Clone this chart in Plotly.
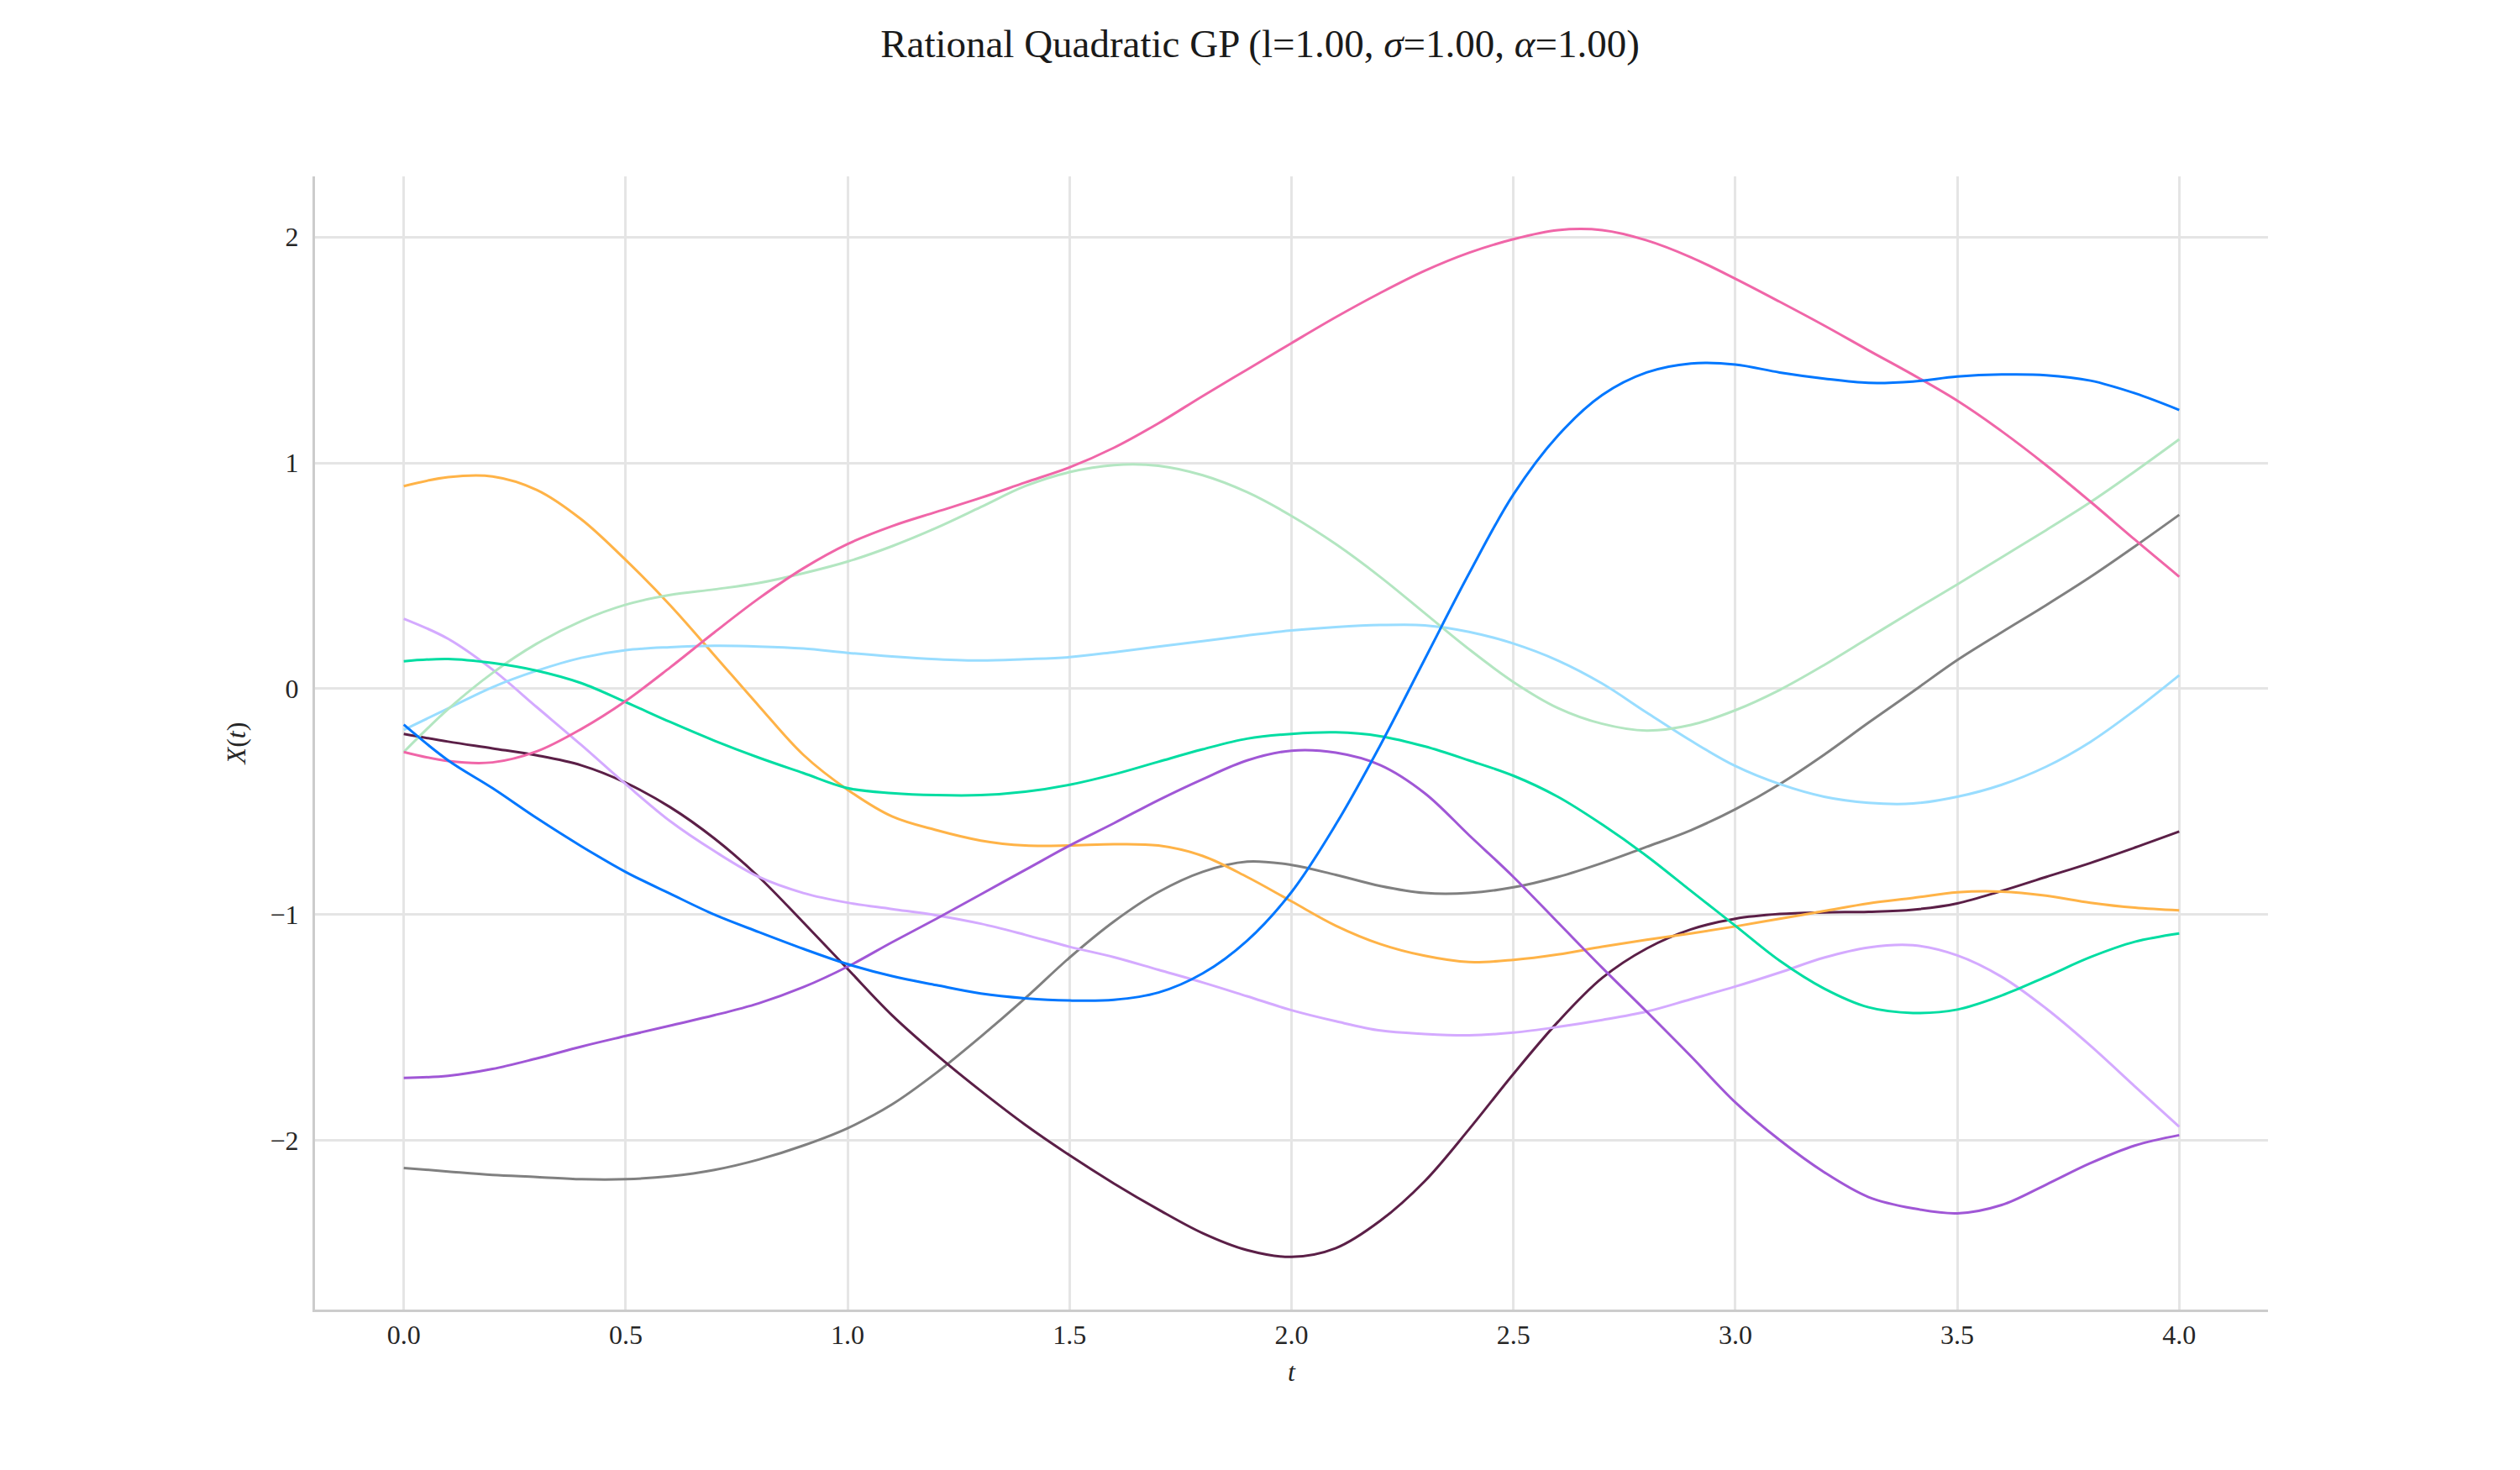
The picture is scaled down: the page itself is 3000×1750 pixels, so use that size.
import plotly.graph_objects as go

t = [0.0, 0.1, 0.2, 0.3, 0.4, 0.5, 0.6, 0.7, 0.8, 0.9,
     1.0, 1.1, 1.2, 1.3, 1.4, 1.5, 1.6, 1.7, 1.8, 1.9,
     2.0, 2.1, 2.2, 2.3, 2.4, 2.5, 2.6, 2.7, 2.8, 2.9,
     3.0, 3.1, 3.2, 3.3, 3.4, 3.5, 3.6, 3.7, 3.8, 3.9, 4.0]

gray = [-2.121, -2.137, -2.152, -2.161, -2.171, -2.171, -2.158, -2.130, -2.084, -2.022,
        -1.945, -1.840, -1.700, -1.540, -1.370, -1.190, -1.030, -0.900, -0.810, -0.765,
        -0.780, -0.824, -0.873, -0.904, -0.904, -0.879, -0.833, -0.771, -0.700, -0.626,
        -0.533, -0.422, -0.292, -0.150, -0.012, 0.127, 0.250, 0.370, 0.495, 0.630, 0.770]

maroon = [-0.200, -0.234, -0.264, -0.295, -0.339, -0.416, -0.524, -0.663, -0.833, -1.034,
          -1.240, -1.445, -1.620, -1.780, -1.930, -2.065, -2.190, -2.305, -2.410, -2.485,
          -2.515, -2.476, -2.355, -2.180, -1.950, -1.705, -1.475, -1.280, -1.150, -1.065,
          -1.018, -0.997, -0.990, -0.987, -0.978, -0.950, -0.895, -0.833, -0.771, -0.703, -0.632]

orange = [0.897, 0.937, 0.940, 0.880, 0.750, 0.570, 0.370, 0.148, -0.076, -0.292,
          -0.447, -0.565, -0.626, -0.672, -0.694, -0.694, -0.688, -0.694, -0.740, -0.833,
          -0.941, -1.049, -1.130, -1.182, -1.210, -1.200, -1.176, -1.142, -1.111, -1.083,
          -1.052, -1.018, -0.984, -0.950, -0.926, -0.901, -0.898, -0.916, -0.947, -0.969, -0.981]

lavender = [0.310, 0.221, 0.085, -0.082, -0.249, -0.422, -0.586, -0.719, -0.833, -0.904,
            -0.947, -0.975, -1.003, -1.040, -1.089, -1.142, -1.188, -1.244, -1.300, -1.361,
            -1.423, -1.472, -1.513, -1.528, -1.534, -1.522, -1.497, -1.466, -1.429, -1.374,
            -1.318, -1.256, -1.190, -1.145, -1.135, -1.180, -1.275, -1.415, -1.580, -1.760, -1.939]

purple = [-1.723, -1.713, -1.683, -1.636, -1.584, -1.537, -1.491, -1.445, -1.392, -1.321,
          -1.230, -1.122, -1.018, -0.910, -0.802, -0.694, -0.595, -0.493, -0.400, -0.317,
          -0.274, -0.283, -0.338, -0.462, -0.648, -0.833, -1.034, -1.235, -1.429, -1.627,
          -1.831, -1.998, -2.140, -2.250, -2.300, -2.322, -2.285, -2.195, -2.100, -2.022, -1.976]

lightblue = [-0.182, -0.087, 0.007, 0.080, 0.137, 0.171, 0.184, 0.190, 0.187, 0.178,
             0.159, 0.143, 0.131, 0.125, 0.131, 0.140, 0.162, 0.187, 0.211, 0.236,
             0.258, 0.273, 0.282, 0.281, 0.252, 0.200, 0.125, 0.023, -0.105, -0.230,
             -0.342, -0.422, -0.478, -0.505, -0.508, -0.478, -0.425, -0.345, -0.235, -0.095, 0.060]

lightgreen = [-0.280, -0.090, 0.070, 0.200, 0.300, 0.372, 0.415, 0.440, 0.468, 0.511,
              0.563, 0.631, 0.712, 0.804, 0.897, 0.959, 0.990, 0.987, 0.945, 0.870,
              0.765, 0.640, 0.495, 0.335, 0.175, 0.030, -0.085, -0.155, -0.185, -0.160,
              -0.095, -0.005, 0.105, 0.225, 0.345, 0.462, 0.582, 0.702, 0.826, 0.962, 1.104]

teal = [0.122, 0.132, 0.114, 0.080, 0.025, -0.059, -0.147, -0.230, -0.305, -0.373,
        -0.440, -0.462, -0.471, -0.471, -0.456, -0.425, -0.379, -0.323, -0.268, -0.221,
        -0.200, -0.193, -0.210, -0.255, -0.317, -0.385, -0.478, -0.601, -0.740, -0.895,
        -1.049, -1.204, -1.327, -1.410, -1.435, -1.420, -1.358, -1.275, -1.188, -1.120, -1.083]

pink = [-0.280, -0.320, -0.326, -0.277, -0.178, -0.054, 0.094, 0.250, 0.400, 0.533,
        0.641, 0.720, 0.783, 0.845, 0.913, 0.980, 1.067, 1.175, 1.296, 1.413,
        1.530, 1.645, 1.752, 1.850, 1.930, 1.990, 2.030, 2.030, 1.985, 1.910,
        1.815, 1.713, 1.608, 1.498, 1.390, 1.275, 1.140, 0.990, 0.828, 0.660, 0.496]

blue = [-0.159, -0.317, -0.440, -0.573, -0.697, -0.811, -0.907, -1.000, -1.077, -1.151,
        -1.219, -1.272, -1.312, -1.349, -1.370, -1.380, -1.377, -1.345, -1.260, -1.115,
        -0.900, -0.600, -0.250, 0.130, 0.510, 0.860, 1.120, 1.300, 1.400, 1.440,
        1.435, 1.400, 1.373, 1.354, 1.360, 1.382, 1.391, 1.388, 1.364, 1.308, 1.234]

series = [
    (gray, "#808080"),
    (maroon, "#5b1f47"),
    (orange, "#ffb347"),
    (lavender, "#d4aaff"),
    (purple, "#a057d6"),
    (lightblue, "#99ddff"),
    (lightgreen, "#b3e6c1"),
    (teal, "#00dda2"),
    (pink, "#f066a8"),
    (blue, "#0077ff"),
]

FONT = "Liberation Serif"

fig = go.Figure()
for vals, col in series:
    fig.add_trace(go.Scatter(x=t, y=vals, mode="lines",
                             line=dict(color=col, width=3, shape="spline", smoothing=1.0),
                             showlegend=False, hoverinfo="skip"))

fig.update_layout(
    width=3000, height=1750,
    paper_bgcolor="white", plot_bgcolor="white",
    margin=dict(l=375, r=300, t=210, b=191),
    font=dict(family=FONT, size=32, color="#262626"),
    title=dict(text="Rational Quadratic GP (l=1.00, <i>σ</i>=1.00, <i>α</i>=1.00)",
               x=0.5, xref="container", xanchor="center",
               y=1 - 52 / 1750, yref="container", yanchor="middle",
               font=dict(family=FONT, size=47, color="#1a1a1a")),
    showlegend=False,
)

fig.update_xaxes(
    range=[-0.2, 4.2], tickvals=[0.0, 0.5, 1.0, 1.5, 2.0, 2.5, 3.0, 3.5, 4.0],
    ticktext=["0.0", "0.5", "1.0", "1.5", "2.0", "2.5", "3.0", "3.5", "4.0"],
    showgrid=True, gridcolor="#e5e5e5", gridwidth=2.5, zeroline=False,
    showline=True, linecolor="#cccccc", linewidth=3, ticks="",
    ticklabelstandoff=0, tickfont=dict(family=FONT, size=32, color="#262626"),
    title=dict(text="<i>t</i>", standoff=16, font=dict(family=FONT, size=32, color="#262626")),
)
fig.update_yaxes(
    range=[-2.748, 2.268], tickvals=[-2, -1, 0, 1, 2],
    ticktext=["−2", "−1", "0", "1", "2"],
    showgrid=True, gridcolor="#e5e5e5", gridwidth=2.5, zeroline=False,
    showline=True, linecolor="#cccccc", linewidth=3, ticks="",
    ticklabelstandoff=10, tickfont=dict(family=FONT, size=32, color="#262626"),
    title=dict(text="<i>X</i>(<i>t</i>)", standoff=20, font=dict(family=FONT, size=32, color="#262626")),
)

fig.write_html("out.html")
